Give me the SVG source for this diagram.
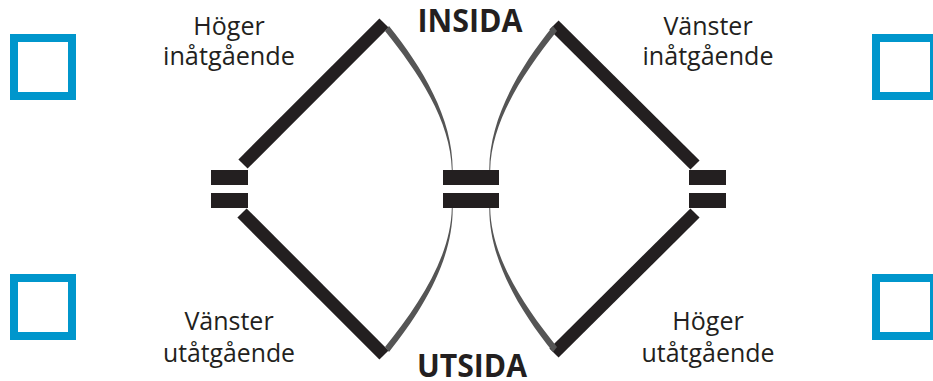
<svg xmlns="http://www.w3.org/2000/svg" width="933" height="381" viewBox="0 0 933 381">
<style>
.sq{fill:#fff;stroke:#0096cc;stroke-width:8}
.bar{fill:#231f20}
.thick{stroke:#231f20;stroke-width:13;stroke-linecap:butt;fill:none}
.curve{fill:#555}
.lbl{font-family:"Open Sans","Liberation Sans",sans-serif;font-size:25px;fill:#231f20;text-anchor:middle}
.big{font-family:"Open Sans","Liberation Sans",sans-serif;font-size:33px;font-weight:bold;fill:#231f20;text-anchor:middle}
</style>
<defs>
<path id="cv" d="M389,26 C422,67 453,118 452.7,170 L451.8,170 C451,121 418,72 385,31 Z"/>
</defs>
<g id="squares">
<rect id="sq-tl" class="sq" x="14" y="38" width="58" height="58"/>
<rect id="sq-bl" class="sq" x="14" y="278" width="58" height="58"/>
<rect id="sq-tr" class="sq" x="876" y="38" width="58" height="58"/>
<rect id="sq-br" class="sq" x="876" y="278" width="58" height="58"/>
</g>
<g id="eq-left"><rect class="bar" x="211" y="170" width="37" height="15"/><rect class="bar" x="211" y="193" width="37" height="15"/></g>
<g id="eq-center"><rect class="bar" x="443" y="170" width="56" height="15"/><rect class="bar" x="443" y="193" width="56" height="15"/></g>
<g id="eq-right"><rect class="bar" x="689" y="170" width="37" height="15"/><rect class="bar" x="689" y="193" width="37" height="15"/></g>
<g id="connectors">
<line class="thick" x1="243" y1="164" x2="384" y2="23"/>
<line class="thick" x1="242" y1="213" x2="384" y2="355"/>
<line class="thick" x1="695" y1="165" x2="554" y2="25"/>
<line class="thick" x1="695" y1="213" x2="554" y2="353"/>
<use href="#cv" class="curve"/>
<use href="#cv" class="curve" transform="translate(942,0) scale(-1,1)"/>
<use href="#cv" class="curve" transform="translate(0,378) scale(1,-1)"/>
<use href="#cv" class="curve" transform="translate(942,378) scale(-1,-1)"/>
</g>
<g id="labels">
<text class="big" x="470" y="32" textLength="105" lengthAdjust="spacingAndGlyphs">INSIDA</text>
<text class="big" x="472" y="377" textLength="110" lengthAdjust="spacingAndGlyphs">UTSIDA</text>
<text class="lbl" x="229" y="35">Höger</text>
<text class="lbl" x="229" y="65" textLength="132" lengthAdjust="spacingAndGlyphs">inåtgående</text>
<text class="lbl" x="708" y="35">Vänster</text>
<text class="lbl" x="708" y="65" textLength="131" lengthAdjust="spacingAndGlyphs">inåtgående</text>
<text class="lbl" x="229" y="330">Vänster</text>
<text class="lbl" x="229" y="362" textLength="132" lengthAdjust="spacingAndGlyphs">utåtgående</text>
<text class="lbl" x="708" y="330">Höger</text>
<text class="lbl" x="708" y="362" textLength="133" lengthAdjust="spacingAndGlyphs">utåtgående</text>
</g>
</svg>
